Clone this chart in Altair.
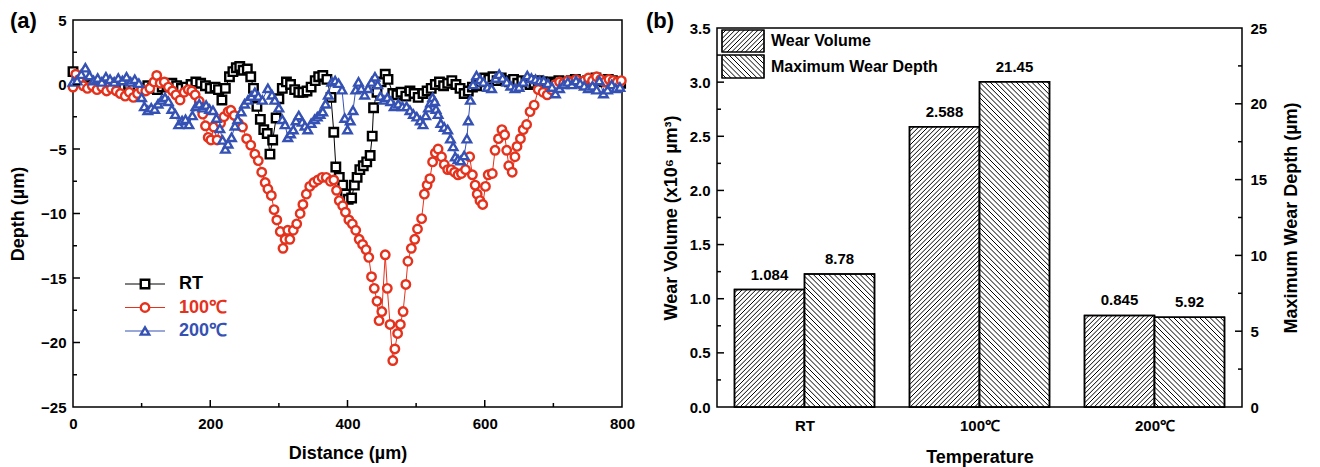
import json
import numpy as np
import pandas as pd
import altair as alt

FONT = "Liberation Sans"
RED = "#e4321d"
BLUE = "#3551b3"

# ---------------- (a) wear-track depth profiles: (distance µm, depth µm) ----------------
rt_profile = [
    (0, 1.0), (6, 0.6), (12, 0.2), (18, 0.1), (25, -0.1), (32, 0.0), (39, -0.2), (46, -0.1),
    (53, 0.1), (60, -0.1), (67, -0.3), (74, -0.2), (81, 0.0), (88, -0.2), (95, -0.4), (102, -0.3),
    (109, -0.1), (116, -0.3), (123, -0.4), (130, -0.2), (137, -0.1), (144, 0.1), (151, -0.1),
    (158, -0.3), (165, -0.2), (172, 0.0), (179, 0.2), (186, 0.1), (193, -0.1), (200, -0.3),
    (207, -0.2), (212, -0.4), (217, -1.2), (222, -0.3), (228, 0.6), (233, 1.0), (238, 1.3),
    (243, 1.4), (248, 1.1), (254, 1.2), (259, 0.6), (263, -0.3), (268, -1.7), (273, -2.7),
    (278, -3.5), (283, -3.8), (287, -5.4), (291, -4.3), (296, -2.6), (300, -1.1), (305, -0.3),
    (311, 0.2), (317, 0.0), (323, -0.4), (329, -0.6), (335, -0.6), (341, -0.5), (347, -0.2),
    (353, 0.3), (358, 0.6), (364, 0.7), (370, 0.4), (376, -1.0), (380, -3.7), (383, -6.4),
    (388, -7.2), (393, -7.8), (397, -8.5), (401, -8.9), (406, -8.8), (410, -7.8), (414, -7.2),
    (418, -6.6), (423, -6.3), (428, -6.0), (433, -5.5), (436, -4.0), (438, -1.8), (443, -0.6),
    (449, 0.2), (455, 0.8), (459, 0.4), (466, -0.7), (472, -0.8), (478, -0.6), (485, -0.9),
    (491, -0.5), (497, -0.7), (503, -1.0), (510, -0.7), (516, -0.5), (522, -0.3), (528, 0.0),
    (534, 0.2), (540, -0.1), (546, 0.1), (552, 0.3), (558, 0.0), (564, -0.3), (570, -0.7),
    (576, -0.5), (582, -0.2), (588, -0.1), (594, 0.2), (600, 0.5), (606, 0.4), (612, 0.6),
    (618, 0.3), (624, 0.5), (630, 0.3), (636, 0.2), (642, 0.4), (648, 0.1), (654, 0.3),
    (660, 0.2), (666, 0.0), (672, 0.1), (678, 0.3), (684, 0.2), (690, 0.0), (696, 0.2),
    (702, 0.1), (708, 0.3), (714, 0.2), (720, 0.1), (726, 0.3), (732, 0.4), (738, 0.2),
    (744, 0.1), (750, 0.3), (756, 0.2), (762, 0.5), (768, 0.3), (774, 0.2), (780, 0.4),
    (786, 0.3), (792, 0.2), (798, 0.1),
]
t100_profile = [
    (0, -0.2), (4, 0.8), (9, 0.4), (15, -0.1), (21, -0.3), (28, -0.1), (35, -0.4), (42, -0.2),
    (49, -0.5), (56, -0.3), (63, -0.5), (69, -0.7), (76, -0.9), (82, -0.6), (88, -1.0), (94, -0.7),
    (100, -0.4), (106, -0.5), (112, -0.3), (118, 0.2), (122, 0.7), (127, 0.1), (133, 0.2),
    (139, -0.2), (145, -0.5), (150, -0.8), (156, -1.2), (162, -0.6), (168, -0.4), (173, -0.5),
    (178, -0.8), (184, -1.3), (189, -2.3), (193, -3.2), (197, -4.1), (201, -4.3), (205, -3.3),
    (210, -4.3), (215, -3.0), (220, -2.5), (226, -2.1), (230, -2.0), (235, -2.4), (241, -3.0),
    (247, -3.3), (253, -4.2), (259, -4.7), (265, -5.4), (270, -5.9), (275, -6.8), (280, -7.6),
    (284, -8.1), (289, -8.6), (293, -9.7), (297, -10.5), (302, -11.4), (306, -12.7), (309, -12.0),
    (313, -11.3), (316, -12.0), (321, -11.3), (326, -10.8), (331, -10.0), (335, -9.3), (340, -8.5),
    (345, -7.9), (351, -7.6), (357, -7.4), (363, -7.2), (369, -7.2), (375, -7.5), (380, -7.4),
    (384, -8.2), (388, -9.0), (393, -9.4), (397, -9.9), (402, -10.5), (407, -10.8), (412, -11.3),
    (417, -12.0), (422, -12.4), (427, -12.8), (431, -13.4), (435, -14.9), (439, -15.8),
    (443, -16.8), (446, -18.3), (450, -17.6), (455, -13.2), (458, -15.8), (462, -18.6),
    (466, -21.4), (469, -20.5), (473, -19.3), (477, -18.6), (481, -17.6), (485, -15.5),
    (488, -13.7), (493, -12.7), (498, -12.0), (502, -11.2), (508, -10.4), (512, -8.5), (516, -7.8),
    (520, -7.3), (524, -6.0), (528, -5.3), (532, -5.0), (537, -5.6), (541, -6.2), (546, -6.6),
    (551, -6.6), (556, -6.8), (561, -7.0), (566, -6.9), (572, -6.6), (578, -5.6), (582, -7.0),
    (586, -7.8), (589, -8.5), (593, -9.0), (597, -9.3), (601, -7.9), (605, -7.0), (611, -6.9),
    (615, -5.1), (620, -4.2), (625, -3.5), (629, -3.9), (632, -5.1), (635, -6.3), (640, -6.8),
    (644, -5.6), (647, -4.8), (652, -4.2), (656, -3.5), (661, -3.1), (666, -2.1), (672, -1.6),
    (678, -0.4), (685, -0.6), (691, -0.8), (697, -0.4), (703, 0.0), (709, 0.2), (715, 0.1),
    (721, 0.3), (727, 0.2), (733, 0.4), (739, 0.1), (745, 0.3), (751, 0.5), (757, 0.3),
    (763, 0.6), (769, 0.4), (775, 0.2), (781, 0.4), (787, 0.3), (793, 0.2), (799, 0.3),
]
t200_profile = [
    (0, 0.2), (6, 0.3), (12, 0.8), (18, 1.3), (24, 0.7), (30, 0.3), (36, 0.5), (42, 0.2),
    (48, 0.6), (54, 0.4), (60, 0.2), (66, 0.5), (72, 0.3), (78, 0.6), (84, 0.2), (90, 0.4),
    (96, 0.1), (100, -1.0), (104, -1.7), (109, -2.0), (114, -1.8), (119, -1.9), (124, -1.5),
    (129, -1.2), (134, -1.0), (139, -1.3), (144, -1.9), (149, -2.3), (154, -3.1), (159, -2.8),
    (164, -2.7), (169, -3.1), (174, -2.4), (179, -1.7), (184, -1.5), (189, -1.8), (194, -1.6),
    (199, -1.9), (204, -2.0), (209, -2.6), (214, -3.4), (218, -4.3), (222, -5.0), (226, -4.6),
    (231, -4.1), (236, -3.2), (240, -2.7), (245, -2.1), (250, -1.5), (255, -1.2), (260, -0.9),
    (265, -0.6), (270, -0.9), (276, -1.2), (284, -0.3), (290, -0.8), (294, -1.2), (300, -1.8),
    (305, -2.7), (309, -3.1), (313, -4.1), (317, -3.8), (321, -3.5), (325, -2.8), (329, -2.4),
    (334, -2.9), (338, -3.2), (342, -3.5), (347, -3.0), (352, -2.7), (356, -2.5), (360, -2.3),
    (364, -2.1), (368, -1.5), (372, -0.8), (377, 0.2), (382, 0.3), (387, 0.1), (392, -0.4),
    (396, -2.6), (400, -3.5), (404, -2.8), (408, -2.0), (412, -0.4), (416, 0.2), (420, -0.3),
    (425, -0.8), (430, -0.3), (435, 0.2), (440, 0.6), (444, 0.0), (448, -0.9), (453, -1.2),
    (458, -1.0), (463, -1.3), (468, -1.7), (474, -1.5), (480, -1.7), (486, -1.7), (491, -2.0),
    (496, -2.3), (501, -2.5), (506, -2.8), (510, -3.1), (514, -2.4), (518, -1.8), (521, -1.4),
    (524, -1.0), (527, -1.3), (529, -1.9), (532, -2.3), (536, -3.0), (541, -3.3), (546, -3.5),
    (550, -4.2), (554, -4.8), (557, -5.6), (561, -5.8), (565, -5.9), (570, -5.5), (574, -4.2),
    (576, -2.8), (579, -1.2), (583, 0.0), (588, 0.7), (593, 0.4), (598, 0.2), (604, -0.2),
    (610, -0.3), (616, 0.5), (621, 0.8), (626, 0.5), (632, 0.2), (638, -0.1), (644, -0.3),
    (650, -0.2), (656, 0.2), (662, 0.7), (668, 0.5), (674, 0.4), (680, 0.3), (686, 0.3),
    (692, 0.1), (698, -0.2), (703, -0.7), (709, -0.3), (715, 0.0), (721, 0.2), (727, 0.0),
    (733, 0.3), (739, 0.1), (745, -0.1), (751, -0.3), (757, -0.1), (763, -0.4), (767, 0.3),
    (773, -0.7), (779, -0.4), (785, 0.0), (791, -0.3), (797, -0.2),
]
series_names = ["RT", "100℃", "200℃"]
series_colors = ["#000000", RED, BLUE]
series_shapes = ["square", "circle", "triangle-up"]

dist_labels = [0, 200, 400, 600, 800]
dist_major = [200, 400, 600]
dist_minor = [100, 300, 500, 700]
depth_labels = [-25, -20, -15, -10, -5, 0, 5]
depth_major = [-20, -15, -10, -5, 0]
depth_minor = [-22.5, -17.5, -12.5, -7.5, -2.5, 2.5]

# ---------------- (b) wear volume / max wear depth ----------------
temps = ["RT", "100℃", "200℃"]
wear_volume = [1.084, 2.588, 0.845]
max_depth = [8.78, 21.45, 5.92]
wv_text = ["1.084", "2.588", "0.845"]
md_text = ["8.78", "21.45", "5.92"]
wv_axis_labels = [0.0, 0.5, 1.0, 1.5, 2.0, 2.5, 3.0, 3.5]
wv_major = [0.5, 1.0, 1.5, 2.0, 2.5, 3.0]
wv_minor = [0.25, 0.75, 1.25, 1.75, 2.25, 2.75, 3.25]
md_axis_labels = [0, 5, 10, 15, 20, 25]
md_major = [5, 10, 15, 20]
md_minor = [2.5, 7.5, 12.5, 17.5, 22.5]
legend_names = ["Wear Volume", "Maximum Wear Depth"]

# ---------------- style ----------------
W1, H1 = 549, 387
W2, H2 = 525, 379
LBL = dict(labelFontSize=15, labelFontWeight="bold", labelColor="black")
TTL = dict(titleFontSize=18, titleFontWeight="bold", titleColor="black")
MAJ, MIN = 7, 4
MSIZE, MSTROKE = 72, 2.4

# ======================= panel (a) =======================
xs1 = alt.Scale(domain=[0, 800], nice=False, zero=False)
ys1 = alt.Scale(domain=[-25, 5], nice=False, zero=False)

rows = []
for name, prof in zip(series_names, [rt_profile, t100_profile, t200_profile]):
    for xv, yv in prof:
        rows.append({"series": name, "x": xv, "y": yv})
prof_df = pd.DataFrame(rows)
cscale = alt.Scale(domain=series_names, range=series_colors)
sscale = alt.Scale(domain=series_names, range=series_shapes)

lines = alt.Chart(prof_df).mark_line(strokeWidth=1).encode(
    x=alt.X("x:Q", scale=xs1, axis=alt.Axis(values=dist_labels, ticks=False, domain=False, grid=False,
                                            labelPadding=9, labelFlush=False, title="Distance (µm)",
                                            titlePadding=13, **LBL, **TTL)),
    y=alt.Y("y:Q", scale=ys1, axis=alt.Axis(values=depth_labels, ticks=False, domain=False, grid=False,
                                            labelPadding=7, labelFlush=False, title="Depth (µm)",
                                            titlePadding=13, **LBL, **TTL)),
    color=alt.Color("series:N", scale=cscale, legend=None),
)
points = alt.Chart(prof_df).mark_point(filled=True, fill="white", strokeWidth=MSTROKE, size=MSIZE,
                                       opacity=1).encode(
    x=alt.X("x:Q", scale=xs1),
    y=alt.Y("y:Q", scale=ys1),
    stroke=alt.Stroke("series:N", scale=cscale, legend=None),
    shape=alt.Shape("series:N", scale=sscale, legend=None),
)


def xticks(vals, scale, length, H):
    return alt.Chart(pd.DataFrame({"x": vals})).mark_rule(color="black", strokeWidth=1.5).encode(
        x=alt.X("x:Q", scale=scale), y=alt.value(H), y2=alt.value(H - length))


def yticks(vals, scale, length):
    return alt.Chart(pd.DataFrame({"y": vals})).mark_rule(color="black", strokeWidth=1.5).encode(
        y=alt.Y("y:Q", scale=scale), x=alt.value(0), x2=alt.value(length))


one = pd.DataFrame({"k": [0]})
leg_layers = []
for i, (name, col, shp) in enumerate(zip(series_names, series_colors, series_shapes)):
    yy = 264 + i * 23.5
    leg_layers.append(alt.Chart(one).mark_rule(color=col, strokeWidth=1).encode(
        x=alt.value(52), x2=alt.value(92), y=alt.value(yy)))
    leg_layers.append(alt.Chart(one).mark_point(shape=shp, filled=True, fill="white", stroke=col,
                                                strokeWidth=MSTROKE, size=MSIZE, opacity=1).encode(
        x=alt.value(72), y=alt.value(yy)))
    leg_layers.append(alt.Chart(one).mark_text(text=name, color=col, fontSize=18, fontWeight="bold",
                                               align="left", baseline="middle").encode(
        x=alt.value(106), y=alt.value(yy)))

tag_a = alt.Chart(one).mark_text(text="(a)", fontSize=22, fontWeight="bold", align="left",
                                 baseline="middle").encode(x=alt.value(-63), y=alt.value(1))

left = alt.layer(
    lines, points,
    xticks(dist_major, xs1, MAJ, H1), xticks(dist_minor, xs1, MIN, H1),
    yticks(depth_major, ys1, MAJ), yticks(depth_minor, ys1, MIN),
    *leg_layers, tag_a,
).properties(width=W1, height=H1)

# ======================= panel (b) =======================
xs2 = alt.Scale(domain=[0, 3], nice=False, zero=False)
ys_wv = alt.Scale(domain=[0, 3.5], nice=False, zero=False)
ys_md = alt.Scale(domain=[0, 25], nice=False, zero=False)
KX = W2 / 3.0
KY_WV = H2 / 3.5
KY_MD = H2 / 25.0
BAR = 0.4


def hatch(x0, x1, y0, y1, kx, ky, step, slope):
    """Diagonal hatch segments clipped to the rectangle [x0,x1]x[y0,y1] (data units)."""
    u0, u1, v0, v1 = x0 * kx, x1 * kx, y0 * ky, y1 * ky
    segs = []
    if slope > 0:  # '/' : v = u + c
        for c in np.arange(np.floor((v0 - u1) / step) * step, v1 - u0 + step, step):
            ua, ub = max(u0, v0 - c), min(u1, v1 - c)
            if ub - ua > 0.3:
                segs.append({"x": ua / kx, "x2": ub / kx, "y": (ua + c) / ky, "y2": (ub + c) / ky})
    else:  # '\' : v = -u + c
        for c in np.arange(np.floor((u0 + v0) / step) * step, u1 + v1 + step, step):
            ua, ub = max(u0, c - v1), min(u1, c - v0)
            if ub - ua > 0.3:
                segs.append({"x": ua / kx, "x2": ub / kx, "y": (c - ua) / ky, "y2": (c - ub) / ky})
    return segs


STEP_WV, STEP_MD = 4.6, 5.2

wv_df = pd.DataFrame({
    "x": [i + 0.5 - BAR for i in range(3)], "x2": [i + 0.5 for i in range(3)],
    "y": wear_volume, "y2": [0] * 3, "xc": [i + 0.5 - BAR / 2 for i in range(3)], "label": wv_text,
})
md_df = pd.DataFrame({
    "x": [i + 0.5 for i in range(3)], "x2": [i + 0.5 + BAR for i in range(3)],
    "y": max_depth, "y2": [0] * 3, "xc": [i + 0.5 + BAR / 2 for i in range(3)], "label": md_text,
})
wv_h = []
for r in wv_df.itertuples():
    wv_h += hatch(r.x, r.x2, 0, r.y, KX, KY_WV, STEP_WV, 1)
md_h = []
for r in md_df.itertuples():
    md_h += hatch(r.x, r.x2, 0, r.y, KX, KY_MD, STEP_MD, -1)

# legend boxes (pixel layout converted to the Wear-Volume scale)
lg_px = [(5, 47, 2, 24), (5, 47, 27, 50)]
lg_boxes = [{"x": a / KX, "x2": b / KX, "y": (H2 - c) / KY_WV, "y2": (H2 - d) / KY_WV} for a, b, c, d in lg_px]
lg_h = hatch(lg_boxes[0]["x"], lg_boxes[0]["x2"], lg_boxes[0]["y2"], lg_boxes[0]["y"], KX, KY_WV, STEP_WV, 1)
lg_h += hatch(lg_boxes[1]["x"], lg_boxes[1]["x2"], lg_boxes[1]["y2"], lg_boxes[1]["y"], KX, KY_WV, STEP_MD, -1)
lg_text = pd.DataFrame({"x": [54 / KX] * 2,
                        "y": [(H2 - 13) / KY_WV, (H2 - 38.5) / KY_WV], "t": legend_names})

label_expr = json.dumps(temps, ensure_ascii=False) + "[floor(datum.value)]"

wv_bars = alt.Chart(wv_df).mark_rect(fill="white", stroke="black", strokeWidth=1.5).encode(
    x=alt.X("x:Q", scale=xs2, axis=alt.Axis(values=[0.5, 1.5, 2.5], labelExpr=label_expr, ticks=False,
                                            domain=False, grid=False, labelPadding=11,
                                            title="Temperature", titlePadding=15, **LBL, **TTL)),
    x2="x2:Q",
    y=alt.Y("y:Q", scale=ys_wv, axis=alt.Axis(values=wv_axis_labels, format=".1f", ticks=False, domain=False,
                                              grid=False, labelPadding=7, labelFlush=False,
                                              title="Wear Volume (x10⁶ µm³)",
                                              titlePadding=9, orient="left", **LBL, **TTL)),
    y2="y2:Q",
)
wv_hatch = alt.Chart(pd.DataFrame(wv_h)).mark_rule(color="black", strokeWidth=1).encode(
    x=alt.X("x:Q", scale=xs2), x2="x2:Q", y=alt.Y("y:Q", scale=ys_wv, axis=None), y2="y2:Q")
wv_outline = alt.Chart(wv_df).mark_rect(fill=None, fillOpacity=0, stroke="black", strokeWidth=1.5).encode(
    x=alt.X("x:Q", scale=xs2), x2="x2:Q", y=alt.Y("y:Q", scale=ys_wv, axis=None), y2="y2:Q")
wv_lab = alt.Chart(wv_df).mark_text(baseline="bottom", dy=-7, fontSize=15, fontWeight="bold").encode(
    x=alt.X("xc:Q", scale=xs2), y=alt.Y("y:Q", scale=ys_wv, axis=None), text="label:N")

md_bars = alt.Chart(md_df).mark_rect(fill="white", stroke="black", strokeWidth=1.5).encode(
    x=alt.X("x:Q", scale=xs2), x2="x2:Q",
    y=alt.Y("y:Q", scale=ys_md, axis=alt.Axis(values=md_axis_labels, ticks=False, domain=False, grid=False,
                                              labelPadding=8, labelFlush=False,
                                              title="Maximum Wear Depth (µm)",
                                              titleAngle=270, titleBaseline="top", titlePadding=16,
                                              orient="right", **LBL, **TTL)),
    y2="y2:Q",
)
md_hatch = alt.Chart(pd.DataFrame(md_h)).mark_rule(color="black", strokeWidth=1).encode(
    x=alt.X("x:Q", scale=xs2), x2="x2:Q", y=alt.Y("y:Q", scale=ys_md, axis=None), y2="y2:Q")
md_outline = alt.Chart(md_df).mark_rect(fill=None, fillOpacity=0, stroke="black", strokeWidth=1.5).encode(
    x=alt.X("x:Q", scale=xs2), x2="x2:Q", y=alt.Y("y:Q", scale=ys_md, axis=None), y2="y2:Q")
md_lab = alt.Chart(md_df).mark_text(baseline="bottom", dy=-7, fontSize=15, fontWeight="bold").encode(
    x=alt.X("xc:Q", scale=xs2), y=alt.Y("y:Q", scale=ys_md, axis=None), text="label:N")

lg_rect = alt.Chart(pd.DataFrame(lg_boxes)).mark_rect(fill="white", stroke="black", strokeWidth=1.2).encode(
    x=alt.X("x:Q", scale=xs2), x2="x2:Q", y=alt.Y("y:Q", scale=ys_wv, axis=None), y2="y2:Q")
lg_hatch = alt.Chart(pd.DataFrame(lg_h)).mark_rule(color="black", strokeWidth=1).encode(
    x=alt.X("x:Q", scale=xs2), x2="x2:Q", y=alt.Y("y:Q", scale=ys_wv, axis=None), y2="y2:Q")
lg_rect2 = alt.Chart(pd.DataFrame(lg_boxes)).mark_rect(fill=None, fillOpacity=0, stroke="black",
                                                       strokeWidth=1.2).encode(
    x=alt.X("x:Q", scale=xs2), x2="x2:Q", y=alt.Y("y:Q", scale=ys_wv, axis=None), y2="y2:Q")
lg_txt = alt.Chart(lg_text).mark_text(align="left", baseline="middle", fontSize=16, fontWeight="bold").encode(
    x=alt.X("x:Q", scale=xs2), y=alt.Y("y:Q", scale=ys_wv, axis=None), text="t:N")

wv_t1 = alt.Chart(pd.DataFrame({"y": wv_major})).mark_rule(color="black", strokeWidth=1.5).encode(
    y=alt.Y("y:Q", scale=ys_wv, axis=None), x=alt.value(0), x2=alt.value(MAJ))
wv_t2 = alt.Chart(pd.DataFrame({"y": wv_minor})).mark_rule(color="black", strokeWidth=1.5).encode(
    y=alt.Y("y:Q", scale=ys_wv, axis=None), x=alt.value(0), x2=alt.value(MIN))
md_t1 = alt.Chart(pd.DataFrame({"y": md_major})).mark_rule(color="black", strokeWidth=1.5).encode(
    y=alt.Y("y:Q", scale=ys_md, axis=None), x=alt.value(W2), x2=alt.value(W2 - MAJ))
md_t2 = alt.Chart(pd.DataFrame({"y": md_minor})).mark_rule(color="black", strokeWidth=1.5).encode(
    y=alt.Y("y:Q", scale=ys_md, axis=None), x=alt.value(W2), x2=alt.value(W2 - MIN))

right = alt.layer(
    wv_bars, wv_hatch, wv_outline, md_bars, md_hatch, md_outline, wv_lab, md_lab,
    lg_rect, lg_hatch, lg_rect2, lg_txt, wv_t1, wv_t2, md_t1, md_t2,
).resolve_scale(y="independent").properties(width=W2, height=H2)

# thin spacer carrying the "(b)" tag; it lowers panel (b) by its own height
TOP_SHIFT = H1 - H2
spacer = alt.Chart(one).mark_text(text="(b)", fontSize=22, fontWeight="bold", align="left",
                                  baseline="middle").encode(x=alt.value(-71), y=alt.value(1)).properties(
    width=W2, height=TOP_SHIFT, view=alt.ViewBackground(stroke="transparent"))

right_col = alt.vconcat(spacer, right, spacing=0, bounds="flush")

chart = alt.hconcat(left, right_col, spacing=9,
                    padding={"left": 0, "top": 1, "right": 0, "bottom": 0}).configure(
    font=FONT
).configure_view(stroke="black", strokeWidth=1.5)

chart.save("out.html", embed_options={"renderer": "svg", "actions": False})
